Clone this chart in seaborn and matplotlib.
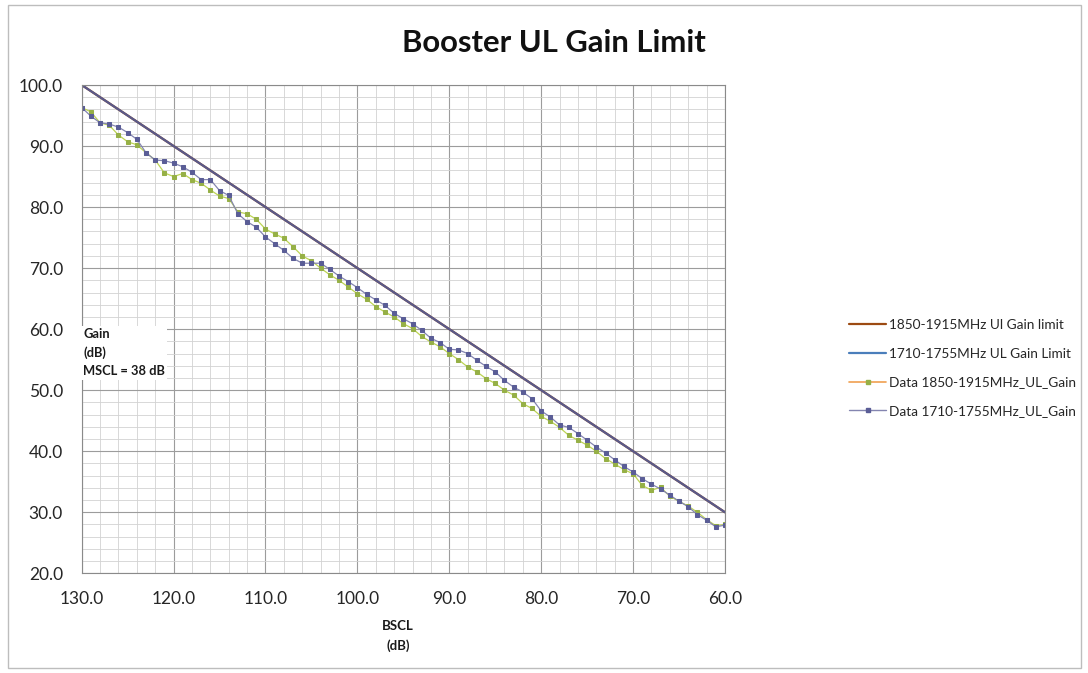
import numpy as np
import pandas as pd
import seaborn as sns
import matplotlib
matplotlib.use("Agg")
import matplotlib.pyplot as plt
from matplotlib.lines import Line2D
from matplotlib.patches import Rectangle
from matplotlib.ticker import MultipleLocator, FormatStrFormatter

# ---------------- data ----------------
bscl = list(range(130, 59, -1))  # 130 ... 60 dB

gain_limit_1850 = [b - 30 for b in bscl]
gain_limit_1710 = [b - 30 for b in bscl]

data_1850 = [96.3, 95.6, 93.8, 93.4, 91.8, 90.7, 90.2, 88.9, 87.7, 85.6,
             85.0, 85.5, 84.5, 83.9, 82.8, 81.8, 81.4, 79.2, 78.9, 78.0,
             76.4, 75.6, 74.9, 73.5, 72.0, 71.2, 70.0, 68.9, 68.0, 66.9,
             65.8, 64.9, 63.7, 62.8, 62.0, 60.9, 60.1, 58.8, 57.9, 57.1,
             56.0, 55.0, 53.8, 53.0, 51.9, 51.1, 50.0, 49.2, 47.8, 47.0,
             45.7, 44.9, 43.9, 42.6, 41.8, 41.0, 40.0, 38.8, 37.9, 37.0,
             36.3, 34.4, 33.6, 34.1, 32.6, 31.8, 31.0, 30.0, 28.8, 27.8,
             28.0]

data_1710 = [96.3, 94.9, 93.8, 93.6, 93.1, 92.2, 91.1, 88.9, 87.7, 87.6,
             87.2, 86.6, 85.7, 84.5, 84.5, 82.7, 81.9, 78.9, 77.6, 76.7,
             75.1, 74.0, 72.9, 71.6, 70.8, 70.8, 70.8, 69.8, 68.7, 67.8,
             66.8, 65.7, 64.8, 63.9, 62.6, 61.7, 60.9, 59.8, 58.5, 57.8,
             56.7, 56.6, 56.0, 54.9, 53.9, 53.0, 51.6, 50.5, 49.7, 48.6,
             46.6, 45.6, 44.3, 43.9, 42.9, 41.8, 40.7, 39.7, 38.6, 37.5,
             36.6, 35.5, 34.6, 33.8, 32.8, 31.8, 30.9, 29.6, 28.7, 27.6,
             27.9]

series_labels = ["1850-1915MHz Ul Gain limit",
                 "1710-1755MHz UL Gain Limit",
                 "Data 1850-1915MHz_UL_Gain",
                 "Data 1710-1755MHz_UL_Gain"]

title = "Booster UL Gain Limit"
x_label = "BSCL\n(dB)"
y_label = "Gain\n(dB)\nMSCL = 38 dB"

df = pd.DataFrame({"BSCL": bscl,
                   "lim1850": gain_limit_1850,
                   "lim1710": gain_limit_1710,
                   "d1850": data_1850,
                   "d1710": data_1710})

# ---------------- style ----------------
sns.set_style("white")
plt.rcParams["font.family"] = ["Lato", "DejaVu Sans"]

W, H = 1088, 673
fig = plt.figure(figsize=(W / 100, H / 100), dpi=100)
left, right, top, bottom = 81.7, 725.0, 85.0, 573.3
ax = fig.add_axes([left / W, 1 - bottom / H, (right - left) / W, (bottom - top) / H])

# colours seen in the plot
c_limit_brown = "#9c4a12"
c_limit_plot = "#5a5a8a"
c_gray_line = "#8485b0"
c_gray_mark = "#5a5d96"
c_green_line = "#bdd455"
c_green_mark = "#96b046"

sns.lineplot(data=df, x="BSCL", y="lim1850", ax=ax, color=c_limit_brown,
             linewidth=1.6, legend=False)
sns.lineplot(data=df, x="BSCL", y="lim1710", ax=ax, color=c_limit_plot,
             linewidth=1.6, legend=False)
sns.lineplot(data=df, x="BSCL", y="d1850", ax=ax, color=c_green_line,
             linewidth=0.9, marker="s", markersize=2.7,
             markerfacecolor=c_green_mark, markeredgecolor=c_green_mark,
             legend=False)
sns.lineplot(data=df, x="BSCL", y="d1710", ax=ax, color=c_gray_line,
             linewidth=0.9, marker="s", markersize=2.7,
             markerfacecolor=c_gray_mark, markeredgecolor=c_gray_mark,
             legend=False)

ax.set_xlim(130, 60)
ax.set_ylim(20, 100)
ax.xaxis.set_major_locator(MultipleLocator(10))
ax.xaxis.set_minor_locator(MultipleLocator(2))
ax.yaxis.set_major_locator(MultipleLocator(10))
ax.yaxis.set_minor_locator(MultipleLocator(2))
ax.xaxis.set_major_formatter(FormatStrFormatter("%.1f"))
ax.yaxis.set_major_formatter(FormatStrFormatter("%.1f"))

ax.grid(which="major", color="#9c9c9c", linewidth=0.8)
ax.grid(which="minor", color="#d2d2d2", linewidth=0.6)
ax.set_axisbelow(True)

ax.tick_params(axis="x", which="major", length=5, width=0.8, color="#8a8a8a",
               direction="out", pad=8, labelsize=12.5, labelcolor="#262626")
ax.tick_params(axis="y", which="major", length=0, pad=13.5, labelsize=12.5,
               labelcolor="#262626")
ax.tick_params(which="minor", length=0)
for s in ax.spines.values():
    s.set_color("#8a8a8a")
    s.set_linewidth(0.8)

ax.set_xlabel("")
ax.set_ylabel("")

# axis titles as in the reference
ax.text(129.85, 56.1, y_label, ha="left", va="center", fontsize=9.3,
        fontweight="bold", color="#1a1a1a", linespacing=1.6,
        bbox=dict(facecolor="white", edgecolor="none", pad=1.5))
fig.text(398 / W, 1 - 636 / H, x_label, ha="center", va="center",
         fontsize=9.5, fontweight="bold", color="#1a1a1a", linespacing=1.65)

fig.text(554 / W, 1 - 43 / H, title, ha="center", va="center",
         fontsize=22.3, fontweight="bold", color="#111111")

# legend (colours as in the reference legend)
handles = [
    Line2D([], [], color=c_limit_brown, linewidth=1.6),
    Line2D([], [], color="#4a7ebb", linewidth=1.6),
    Line2D([], [], color="#f0a050", linewidth=1.2, marker="s", markersize=2.3,
           markerfacecolor=c_green_mark, markeredgecolor=c_green_mark),
    Line2D([], [], color=c_gray_line, linewidth=1.0, marker="s", markersize=2.3,
           markerfacecolor=c_gray_mark, markeredgecolor=c_gray_mark),
]
fig.legend(handles, series_labels, loc="center left",
           bbox_to_anchor=(849 / W, 1 - 368 / H), frameon=False,
           fontsize=9.8, handlelength=2.75, handletextpad=0.2,
           labelspacing=1.22, numpoints=1, borderaxespad=0, borderpad=0)

# outer chart frame
fig.patches.append(Rectangle((8 / W, 5 / H), (1081 - 8) / W, (668 - 5) / H,
                             transform=fig.transFigure, fill=False,
                             edgecolor="#bdbdbd", linewidth=1.0))

fig.savefig("out.png", dpi=100)
